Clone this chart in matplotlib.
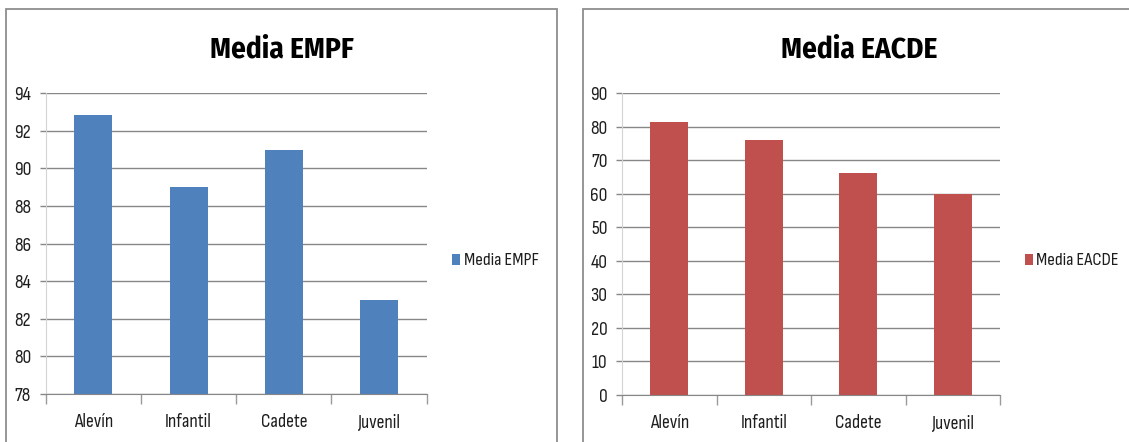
import matplotlib
matplotlib.use("Agg")
import matplotlib.pyplot as plt
from matplotlib.patches import Rectangle
from matplotlib.textpath import TextPath
from matplotlib.font_manager import FontProperties

categories = ["Alevín", "Infantil", "Cadete", "Juvenil"]
empf_values = [92.85, 89.0, 91.0, 83.0]
eacde_values = [81.3, 76.1, 66.1, 60.0]
empf_ticks = [78, 80, 82, 84, 86, 88, 90, 92, 94]
eacde_ticks = [0, 10, 20, 30, 40, 50, 60, 70, 80, 90]

LABEL_FONT = ["Sofia Sans Condensed", "DejaVu Sans"]
TITLE_FONT = ["Fira Sans Condensed", "DejaVu Sans"]
plt.rcParams["font.family"] = LABEL_FONT

W, H = 1129, 442
DPI = 100


def size_for_cap(px, family, weight="normal"):
    """Font size in points whose capital height is `px` pixels."""
    p = TextPath((0, 0), "E", size=100, prop=FontProperties(family=family, weight=weight))
    return px * 72 / p.get_extents().height


LABEL_PT = size_for_cap(12.8, LABEL_FONT)
LEGEND_PT = size_for_cap(12.4, LABEL_FONT)
TITLE_PT = size_for_cap(20.3, TITLE_FONT, "bold")

fig = plt.figure(figsize=(W / DPI, H / DPI), dpi=DPI)
fig.patch.set_facecolor("white")

GRID = "#878787"
TXT = "#1e1e1e"


def fx(px):
    return px / W


def fy(py):
    return 1 - py / H


def frame(x0, x1, y0):
    fig.patches.append(Rectangle((fx(x0), fy(H + 20)), fx(x1 - x0), fy(y0) - fy(H + 20),
                                 transform=fig.transFigure, fill=False,
                                 edgecolor="#8e8e8e", linewidth=1.3))


frame(6, 557, 9)
frame(582.5, 1160, 9)


def panel(left, right, top, bottom, values, ticks, color, title, title_x, legend_x):
    ax = fig.add_axes([fx(left), fy(bottom), fx(right - left), fy(top) - fy(bottom)])
    x = list(range(len(categories)))
    ax.bar(x, values, width=0.4, color=color, zorder=3)
    ax.set_xlim(-0.5, len(categories) - 0.5)
    ax.set_ylim(ticks[0], ticks[-1])
    ax.set_yticks(ticks)
    ax.set_yticklabels([str(t) for t in ticks], fontsize=LABEL_PT, color=TXT)
    ax.set_xticks(x)
    ax.set_xticklabels(categories, fontsize=LABEL_PT, color=TXT)
    ax.tick_params(axis="x", length=0, pad=14)
    ax.set_xticks([i - 0.5 for i in range(len(categories) + 1)], minor=True)
    ax.tick_params(axis="x", which="minor", length=7.5, color="#9a9a9a", width=1)
    ax.tick_params(axis="y", length=4, color=GRID, width=1, pad=6.5)
    ax.yaxis.grid(True, color=GRID, linewidth=1, zorder=0)
    for s in ("top", "right"):
        ax.spines[s].set_visible(False)
    ax.spines["left"].set_color("#d4d4d4")
    ax.spines["bottom"].set_color(GRID)
    ax.spines["bottom"].set_zorder(4)
    fig.text(fx(title_x), fy(57.7), title, ha="center", va="baseline",
             fontsize=TITLE_PT, fontweight="bold", color="black", family=TITLE_FONT)
    fig.patches.append(Rectangle((fx(legend_x), fy(265)), fx(8.3), fy(253.5) - fy(265),
                                 transform=fig.transFigure, facecolor=color,
                                 edgecolor="none"))
    fig.text(fx(legend_x + 11.5), fy(265), title, ha="left", va="baseline",
             fontsize=LEGEND_PT, color=TXT)
    return ax


panel(45.7, 426.7, 93.3, 394, empf_values, empf_ticks, "#4F81BD",
      "Media EMPF", 282, 452)
panel(622, 1000, 93.3, 395, eacde_values, eacde_ticks, "#C0504D",
      "Media EACDE", 859, 1025)

fig.savefig("out.png", dpi=DPI, facecolor="white")
